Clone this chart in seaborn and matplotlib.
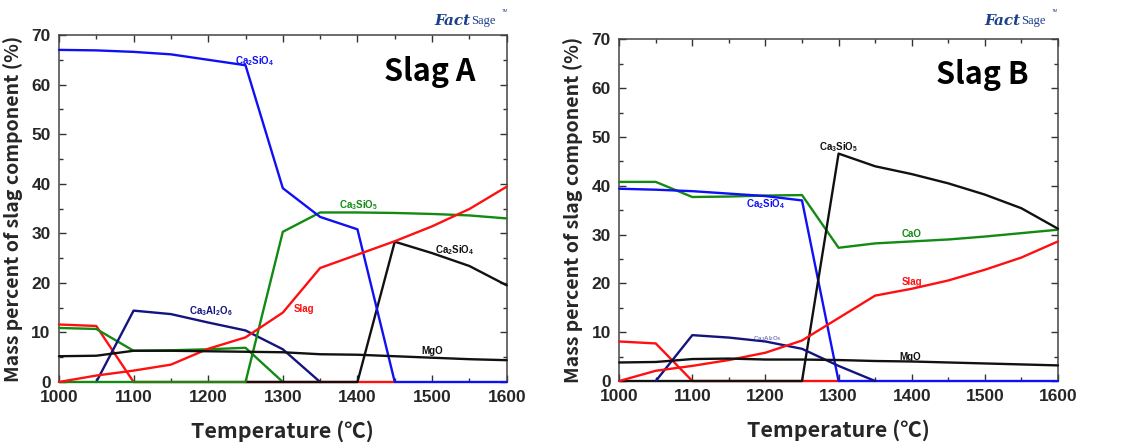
import numpy as np
import pandas as pd
import matplotlib
matplotlib.use("Agg")
import matplotlib.pyplot as plt
import seaborn as sns
from matplotlib.ticker import MultipleLocator

sns.set_theme(style="white")
plt.rcParams['font.family'] = ['Liberation Sans', 'DejaVu Sans']
plt.rcParams['mathtext.default'] = 'regular'

T = [1000, 1050, 1100, 1150, 1200, 1250, 1300, 1350, 1400, 1450, 1500, 1550, 1600]
N = None

# ---- Slag A ----
a_red2 = [11.6, 11.3, 0, 0, 0, 0, 0, 0, 0, 0, N, N, N]
a_cao = [10.9, 10.7, 6.3, 6.4, 6.6, 6.9, 0, N, N, N, N, N, N]
a_c3a = [N, 0, 14.4, 13.7, 12.0, 10.4, 6.6, 0, N, N, N, N, N]
a_c2s_hi = [N, N, N, N, N, 0, 0, 0, 0, 28.3, 26.0, 23.4, 19.5]
a_c3s = [0, 0, 0, 0, 0, 0, 30.3, 34.2, 34.2, 34.1, 33.9, 33.6, 33.0]
a_c2s = [67.0, 66.9, 66.6, 66.1, 65.0, 63.9, 39.1, 33.3, 30.8, 0, 0, 0, 0]
a_slag = [0, 1.3, 2.3, 3.5, 6.7, 9.0, 14.0, 23.0, 25.7, 28.4, 31.4, 34.9, 39.4]
a_mgo = [5.2, 5.3, 6.3, 6.3, 6.2, 6.1, 6.0, 5.6, 5.5, 5.2, 4.9, 4.6, 4.4]

# ---- Slag B ----
b_red2 = [8.1, 7.7, 0, 0, 0, 0, 0, N, N, N, N, N, N]
b_c3s = [0, 0, 0, 0, 0, 0, 46.6, 44.0, 42.4, 40.5, 38.2, 35.4, 31.2]
b_cao = [40.8, 40.8, 37.7, 37.8, 38.0, 38.1, 27.3, 28.2, 28.6, 29.0, 29.6, 30.3, 31.0]
b_c2s = [39.4, 39.2, 38.9, 38.4, 37.9, 37.0, 0, 0, 0, 0, 0, 0, 0]
b_c3a = [N, 0, 9.4, 8.9, 8.1, 6.6, 3.1, 0, N, N, N, N, N]
b_slag = [0, 2.1, 3.1, 4.3, 5.8, 8.3, 12.9, 17.5, 18.9, 20.6, 22.8, 25.3, 28.6]
b_mgo = [3.8, 3.9, 4.5, 4.6, 4.4, 4.4, 4.3, 4.1, 4.0, 3.8, 3.6, 3.4, 3.2]

BLUE = "#1010f5"
GREEN = "#138a13"
RED = "#ff1010"
NAVY = "#141480"
BLACK = "#111111"

series_A = [(a_red2, RED), (a_cao, GREEN), (a_c3a, NAVY), (a_c2s_hi, BLACK),
            (a_c3s, GREEN), (a_c2s, BLUE), (a_slag, RED), (a_mgo, BLACK)]
series_B = [(b_red2, RED), (b_cao, GREEN), (b_c2s, BLUE), (b_c3s, BLACK),
            (b_c3a, NAVY), (b_slag, RED), (b_mgo, BLACK)]

labels_A = [("Ca$_2$SiO$_4$", 1262, 64.7, BLUE, 7),
            ("Ca$_3$SiO$_5$", 1401, 35.7, GREEN, 7),
            ("Ca$_2$SiO$_4$", 1530, 26.6, BLACK, 7),
            ("Ca$_3$Al$_2$O$_6$", 1203, 14.3, NAVY, 7),
            ("Slag", 1329, 14.7, RED, 7),
            ("MgO", 1500, 6.3, BLACK, 7)]
labels_B = [("Ca$_3$SiO$_5$", 1300, 48.0, BLACK, 7),
            ("Ca$_2$SiO$_4$", 1200, 36.2, BLUE, 7),
            ("CaO", 1400, 30.2, GREEN, 7),
            ("Slag", 1400, 20.3, RED, 7),
            ("MgO", 1398, 5.0, BLACK, 7),
            ("Ca$_3$Al$_2$O$_6$", 1202, 8.6, "#7a7ab8", 4.5)]

CJK = ['Noto Sans CJK KR', 'DejaVu Sans']

fig = plt.figure(figsize=(11.25, 4.46), dpi=100)
axA = fig.add_axes([0.0524, 0.1435, 0.398, 0.778])
axB = fig.add_axes([0.5504, 0.1457, 0.390, 0.766])

def draw(ax, series, labels, title):
    for vals, col in series:
        df = pd.DataFrame({"T": T, "v": vals}).dropna()
        sns.lineplot(data=df, x="T", y="v", ax=ax, color=col, lw=1.7,
                     sort=False, estimator=None, legend=False,
                     clip_on=False, zorder=3)
    for txt, x, y, col, fs in labels:
        ax.text(x, y, txt, color=col, fontsize=fs, fontweight='bold',
                ha='center', va='center')
    ax.text(1497, 62.6, title, fontsize=22, ha='center', va='center',
            family=CJK, fontweight='bold', color='black')
    ax.set_xlim(1000, 1600)
    ax.set_ylim(0, 70)
    ax.xaxis.set_major_locator(MultipleLocator(100))
    ax.xaxis.set_minor_locator(MultipleLocator(50))
    ax.yaxis.set_major_locator(MultipleLocator(10))
    ax.yaxis.set_minor_locator(MultipleLocator(5))
    ax.tick_params(which='both', direction='in', top=True, right=True,
                   bottom=True, left=True, color='#333333')
    ax.tick_params(which='major', length=5, width=1, labelsize=12.5, pad=6)
    ax.tick_params(which='minor', length=3, width=1)
    for lab in ax.get_xticklabels() + ax.get_yticklabels():
        lab.set_fontweight('bold')
    for sp in ax.spines.values():
        sp.set_color('#444444')
        sp.set_linewidth(1.1)
    ax.set_xlabel("Temperature (℃)", fontsize=15.5, family=CJK,
                  fontweight='bold', labelpad=11)
    ax.set_ylabel("Mass percent of slag component (%)", fontsize=14,
                  family=CJK, fontweight='bold', labelpad=6)

draw(axA, series_A, labels_A, "Slag A")
draw(axB, series_B, labels_B, "Slag B")

for xl in (0.418, 0.907):
    fig.text(xl, 0.952, "Fact", color="#1c3f8a", fontsize=11, fontweight='bold',
             family='DejaVu Serif', style='italic', ha='right', va='center')
    fig.text(xl + 0.001, 0.952, "Sage", color="#1c3f8a", fontsize=9,
             family='Liberation Serif', ha='left', va='center')
    fig.text(xl + 0.028, 0.975, "TM", color="#1c3f8a", fontsize=3, ha='left', va='center')

fig.savefig("out.png", dpi=100, facecolor='white')
